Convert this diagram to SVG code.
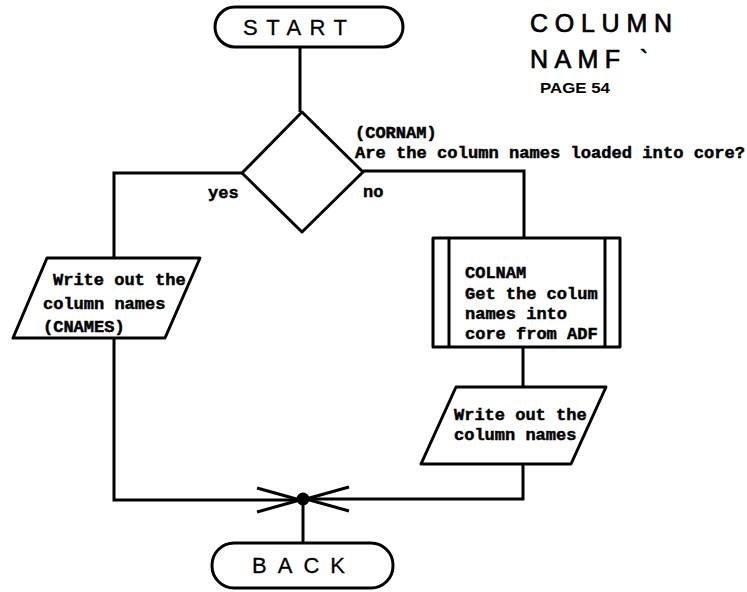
<svg xmlns="http://www.w3.org/2000/svg" width="747" height="592" viewBox="0 0 747 592">
<style>
.shape{fill:#fff;stroke:#000;stroke-width:3;stroke-linejoin:round}
.line{fill:none;stroke:#000;stroke-width:3}
.mono{font-family:"Liberation Mono","DejaVu Sans Mono",monospace;font-weight:bold;font-size:17px;fill:#000;stroke:#000;stroke-width:0.5}
.term{font-family:"Liberation Sans",Arial,sans-serif;font-size:22px;fill:#000;stroke:#000;stroke-width:0.3}
.title{font-family:"Liberation Sans",Arial,sans-serif;font-size:25px;fill:#000;stroke:#000;stroke-width:0.7}
.page{font-family:"Liberation Sans",Arial,sans-serif;font-weight:bold;font-size:15px;fill:#000}
</style>
<defs>
<marker id="chev" markerUnits="userSpaceOnUse" markerWidth="50" markerHeight="30" refX="0" refY="0" viewBox="-45 -15 50 30" orient="auto">
<path d="M-43,-12 L0,0 L-43,12" fill="none" stroke="#000" stroke-width="3"/>
</marker>
</defs>
<rect width="747" height="592" fill="#fff"/>
<g id="connectors">
<path class="line" d="M300,47 V112"/>
<path class="line" d="M242,173 H114 V258"/>
<path class="line" d="M363,171 H524 V238"/>
<path class="line" d="M523,347 V387"/>
<path class="line" d="M114,338 V500 H300" marker-end="url(#chev)"/>
<path class="line" d="M523,464 V499 H306" marker-end="url(#chev)"/>
<path class="line" d="M303,499 V543"/>
<circle cx="303" cy="499" r="6.5" fill="#000"/>
</g>
<g id="start">
<rect class="shape" x="215" y="7" width="188" height="40" rx="20"/>
<text class="term" x="243" y="35" textLength="104" lengthAdjust="spacing">START</text>
</g>
<g id="title">
<text class="title" x="530" y="32" textLength="142" lengthAdjust="spacing">COLUMN</text>
<text class="title" x="530" y="68" textLength="118" lengthAdjust="spacing">NAMF `</text>
<text class="page" x="540" y="93" textLength="70" lengthAdjust="spacingAndGlyphs">PAGE 54</text>
</g>
<g id="decision">
<polygon class="shape" points="302,112 363,172 302,232 242,173"/>
<text class="mono" x="355" y="138">(CORNAM)</text>
<text class="mono" x="355" y="158" textLength="390" lengthAdjust="spacingAndGlyphs">Are the column names loaded into core?</text>
<text class="mono" x="208" y="198">yes</text>
<text class="mono" x="363" y="197">no</text>
</g>
<g id="write-left">
<polygon class="shape" points="47,258 200,258 165,338 13,338"/>
<text class="mono" x="53" y="285">Write out the</text>
<text class="mono" x="43" y="309">column names</text>
<text class="mono" x="43" y="332">(CNAMES)</text>
</g>
<g id="colnam">
<rect class="shape" x="433" y="238" width="187" height="109"/>
<line class="line" x1="449" y1="238" x2="449" y2="347"/>
<line class="line" x1="605" y1="238" x2="605" y2="347"/>
<text class="mono" x="465" y="278">COLNAM</text>
<text class="mono" x="465" y="299">Get the colum</text>
<text class="mono" x="465" y="319">names into</text>
<text class="mono" x="465" y="339">core from ADF</text>
</g>
<g id="write-right">
<polygon class="shape" points="456,387 606,387 571,464 421,464"/>
<text class="mono" x="454" y="420">Write out the</text>
<text class="mono" x="454" y="440">column names</text>
</g>
<g id="back">
<rect class="shape" x="212" y="543" width="181" height="45" rx="22"/>
<text class="term" x="252" y="573" textLength="93" lengthAdjust="spacing">BACK</text>
</g>
</svg>
